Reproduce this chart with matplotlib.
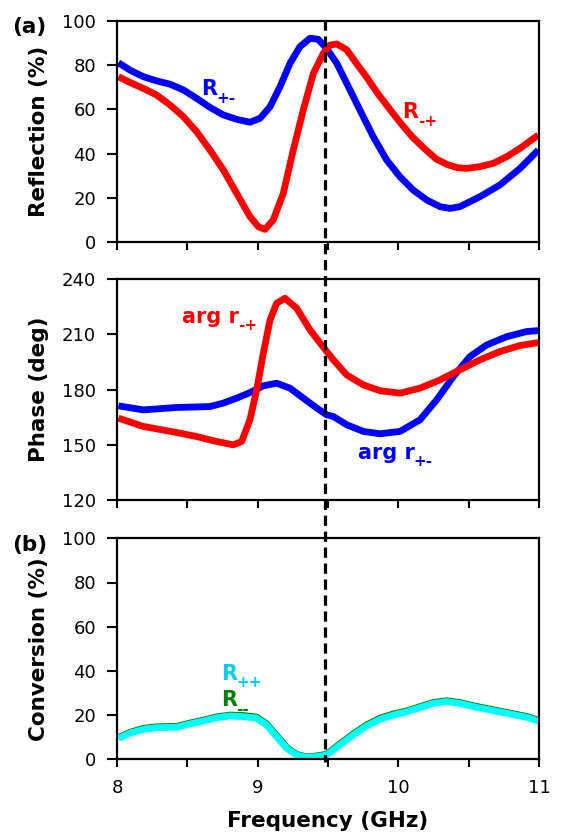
import numpy as np
import matplotlib
matplotlib.use("Agg")
import matplotlib.pyplot as plt
from matplotlib.lines import Line2D
from matplotlib.transforms import blended_transform_factory
from matplotlib.ticker import MultipleLocator

plt.rcParams['font.family'] = ['DejaVu Sans']

# ---- Data ----
f_Rpm = [8.01, 8.092, 8.187, 8.282, 8.377, 8.472, 8.566, 8.661, 8.756, 8.851, 8.945, 9.017,
         9.088, 9.159, 9.230, 9.301, 9.372, 9.431, 9.49, 9.562, 9.633, 9.727, 9.822, 9.917,
         10.012, 10.106, 10.202, 10.296, 10.367, 10.438, 10.58, 10.722, 10.865, 10.995]
R_pm = [81.1, 77.8, 74.8, 72.9, 71.4, 68.8, 65.0, 60.9, 57.5, 55.5, 54.2, 56.0,
        61.2, 70.3, 80.9, 88.4, 92.2, 91.7, 87.6, 80.9, 71.8, 59.7, 47.6, 37.1,
        29.5, 23.5, 19.0, 16.0, 15.2, 16.0, 20.5, 25.8, 33.3, 41.6]

f_Rmp = [8.01, 8.092, 8.187, 8.282, 8.377, 8.472, 8.566, 8.661, 8.756, 8.851, 8.945, 9.005,
         9.052, 9.111, 9.182, 9.253, 9.324, 9.396, 9.467, 9.514, 9.562, 9.633, 9.70, 9.77,
         9.85, 9.94, 10.02, 10.10, 10.19, 10.27, 10.35, 10.42, 10.486, 10.58, 10.675, 10.77,
         10.865, 10.995]
R_mp = [74.8, 72.2, 69.5, 66.5, 62.0, 56.7, 49.9, 41.6, 32.6, 22.0, 11.5, 6.9,
        5.7, 10.0, 22.0, 41.6, 59.7, 76.3, 85.4, 89.1, 89.6, 87.0, 81.0, 75.0,
        67.5, 60.0, 53.5, 47.5, 42.0, 37.5, 35.0, 33.6, 33.3, 34.1, 35.6, 38.6,
        42.4, 48.4]

f_Ppm = [8.01, 8.187, 8.424, 8.661, 8.756, 8.851, 8.945, 9.04, 9.135, 9.230, 9.324, 9.42,
         9.491, 9.538, 9.633, 9.751, 9.87, 10.012, 10.154, 10.273, 10.391, 10.509, 10.628,
         10.77, 10.912, 10.995]
P_pm = [171.2, 169.0, 170.3, 170.8, 172.7, 175.4, 178.4, 182.1, 183.5, 180.8, 175.4, 170.0,
        166.3, 165.4, 160.9, 157.3, 156.0, 157.3, 163.6, 174.5, 187.1, 198.0, 204.3,
        208.8, 211.6, 212.1]

f_Pmp = [8.01, 8.187, 8.424, 8.566, 8.709, 8.827, 8.886, 8.945, 8.993, 9.04, 9.088, 9.135,
         9.194, 9.277, 9.372, 9.491, 9.538, 9.633, 9.751, 9.87, 10.012, 10.154, 10.296,
         10.438, 10.58, 10.722, 10.865, 10.995]
P_mp = [164.5, 160.0, 156.7, 154.5, 151.8, 150.0, 151.8, 163.6, 179.9, 199.8, 217.9, 227.0,
        229.7, 224.3, 212.5, 200.7, 196.2, 188.0, 182.6, 179.4, 178.1, 180.8, 185.3,
        190.8, 196.2, 200.7, 204.0, 205.6]

f_C = [8.01, 8.092, 8.187, 8.282, 8.424, 8.519, 8.614, 8.709, 8.803, 8.898, 8.993, 9.064,
       9.135, 9.206, 9.277, 9.348, 9.419, 9.49, 9.585, 9.68, 9.775, 9.87, 9.964, 10.059,
       10.154, 10.249, 10.344, 10.438, 10.533, 10.628, 10.77, 10.912, 10.995]
R_pp = [9.5, 11.8, 13.6, 14.3, 14.5, 16.0, 17.3, 18.8, 19.6, 19.3, 18.6, 15.5,
        10.2, 5.0, 1.9, 0.9, 1.2, 1.9, 6.5, 11.0, 15.1, 18.1, 20.0, 21.5,
        23.4, 25.3, 26.1, 25.3, 23.8, 22.6, 20.8, 19.0, 17.3]
R_mm = [9.8, 12.2, 14.0, 14.7, 14.9, 16.4, 17.7, 19.2, 20.0, 19.8, 19.1, 16.0,
        10.7, 5.4, 2.2, 1.1, 1.5, 2.3, 7.0, 11.5, 15.6, 18.6, 20.5, 21.9,
        23.8, 25.7, 26.5, 25.7, 24.2, 23.0, 21.2, 19.4, 17.7]

f_dash = 9.48
xticks_major = [8, 9, 10, 11]

# ---- Figure ----
W, H = 561, 832
fig = plt.figure(figsize=(W / 100, H / 100), dpi=100)

def frame(top_px, bottom_px):
    return [117 / W, 1 - bottom_px / H, 422 / W, (bottom_px - top_px) / H]

ax1 = fig.add_axes(frame(21, 242))
ax2 = fig.add_axes(frame(279.3, 500))
ax3 = fig.add_axes(frame(538.3, 759.3))

lw = 4.9
kw = dict(lw=lw, solid_capstyle='butt', solid_joinstyle='round')
ax1.plot(f_Rpm, R_pm, color='#0000ff', **kw)
ax1.plot(f_Rmp, R_mp, color='#ff0000', **kw)
ax2.plot(f_Ppm, P_pm, color='#0000ff', **kw)
ax2.plot(f_Pmp, P_mp, color='#ff0000', **kw)
ax3.plot(f_C, R_mm, color='#008000', **kw)
ax3.plot(f_C, R_pp, color='#00ffff', **kw)

tick_fs = 13
lab_fs = 15.5
for ax in (ax1, ax2, ax3):
    ax.set_xlim(8, 11)
    ax.xaxis.set_major_locator(MultipleLocator(1))
    ax.xaxis.set_minor_locator(MultipleLocator(0.5))
    ax.tick_params(axis='both', which='both', direction='out', width=1.5, labelsize=tick_fs,
                   colors='black')
    ax.tick_params(axis='x', which='both', length=6, pad=8)
    ax.tick_params(axis='y', which='major', length=7, pad=8)
    for s in ax.spines.values():
        s.set_linewidth(1.6)
        s.set_color('black')

ax1.set_ylim(0, 100)
ax1.set_yticks([0, 20, 40, 60, 80, 100])
ax2.set_ylim(120, 240)
ax2.set_yticks([120, 150, 180, 210, 240])
ax3.set_ylim(0, 100)
ax3.set_yticks([0, 20, 40, 60, 80, 100])
ax1.tick_params(axis='x', labelbottom=False)
ax2.tick_params(axis='x', labelbottom=False)
ax3.set_xticks(xticks_major)
ax3.set_xticklabels([str(v) for v in xticks_major])

ax1.set_ylabel('Reflection (%)', fontsize=lab_fs, fontweight='bold')
ax2.set_ylabel('Phase (deg)', fontsize=lab_fs, fontweight='bold')
ax3.set_ylabel('Conversion (%)', fontsize=lab_fs, fontweight='bold')
ax3.set_xlabel('Frequency (GHz)', fontsize=lab_fs, fontweight='bold', labelpad=10)
for ax in (ax1, ax2, ax3):
    ax.yaxis.set_label_coords(-0.16, 0.5)

# annotations: main text + hyphen-style subscript
afs = 15
sfs = 11

def label(ax, x, y, main, sub, color):
    t = ax.text(x, y, main, color=color, fontsize=afs, fontweight='bold', ha='left',
                va='baseline')
    ax.annotate(sub, xy=(1.0, 0.0), xycoords=t, xytext=(-0.5, -2.5), textcoords='offset points',
                color=color, fontsize=sfs, fontweight='bold', ha='left', va='baseline')

label(ax1, 8.60, 66.5, 'R', '+-', '#0000ff')
label(ax1, 10.03, 56.0, 'R', '-+', '#ff0000')
label(ax2, 8.46, 216.5, 'arg r', '-+', '#ff0000')
label(ax2, 9.71, 142.5, 'arg r', '+-', '#0000ff')
label(ax3, 8.74, 36.0, 'R', '++', '#00ccff')
label(ax3, 8.74, 24.0, 'R', '--', '#008000')

fig.text(12 / W, 1 - 27 / H, '(a)', fontsize=lab_fs, fontweight='bold', ha='left', va='center')
fig.text(12 / W, 1 - 545 / H, '(b)', fontsize=lab_fs, fontweight='bold', ha='left', va='center')

# dashed vertical line across all panels
tr = blended_transform_factory(ax1.transData, fig.transFigure)
dl = Line2D([f_dash, f_dash], [1 - 20 / H, 1 - 762 / H], transform=tr, color='black',
            lw=2.3, linestyle=(0, (3.2, 1.8)), zorder=10)
fig.add_artist(dl)

fig.savefig('out.png', dpi=100)
